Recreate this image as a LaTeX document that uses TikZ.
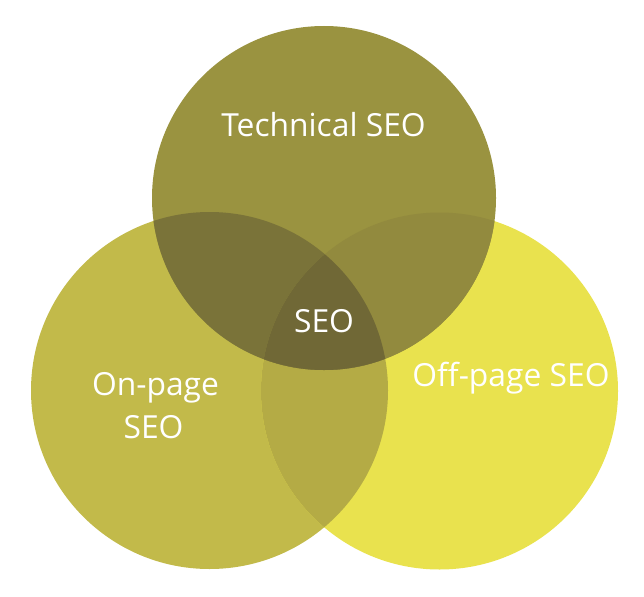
\documentclass[tikz,border=0pt]{standalone}
\usepackage{fontspec}
\setmainfont{Open Sans}
\definecolor{cL}{RGB}{194,186,74}
\definecolor{cR}{RGB}{233,226,78}
\definecolor{cLR}{RGB}{180,171,69}
\definecolor{cT}{RGB}{154,147,64}
\definecolor{cTL}{RGB}{122,115,57}
\definecolor{cTR}{RGB}{146,138,62}
\definecolor{cC}{RGB}{112,104,54}
\tikzset{lbl/.style={text=white,font=\fontsize{31.8}{43}\selectfont,inner sep=0pt,anchor=base,align=center}}
\begin{document}
\begin{tikzpicture}[x=1pt,y=-1pt]
\useasboundingbox (0,0) rectangle (644,596);
\def\circL{(209.5,390.5) circle[radius=178.5]}
\def\circR{(439.5,391) circle[radius=178.5]}
\def\circT{(324,198) circle[radius=172]}
\fill[cL] \circL;
\fill[cR] \circR;
\begin{scope}\clip \circL; \fill[cLR] \circR; \end{scope}
\fill[cT] \circT;
\begin{scope}
\clip \circT;
\fill[cTL] \circL;
\fill[cTR] \circR;
\clip \circL;
\fill[cC] \circR;
\end{scope}
\node[lbl] (tech) at (323.5,136.7) {Technical SEO};
\node[lbl] (seo) at (324,332) {SEO};
\node[lbl] (onpage) at (155.5,395) {On-page};
\node[lbl] (onseo) at (153.5,438) {SEO};
\node[lbl] (offpage) at (511,386) {Off-page SEO};
\end{tikzpicture}
\end{document}
